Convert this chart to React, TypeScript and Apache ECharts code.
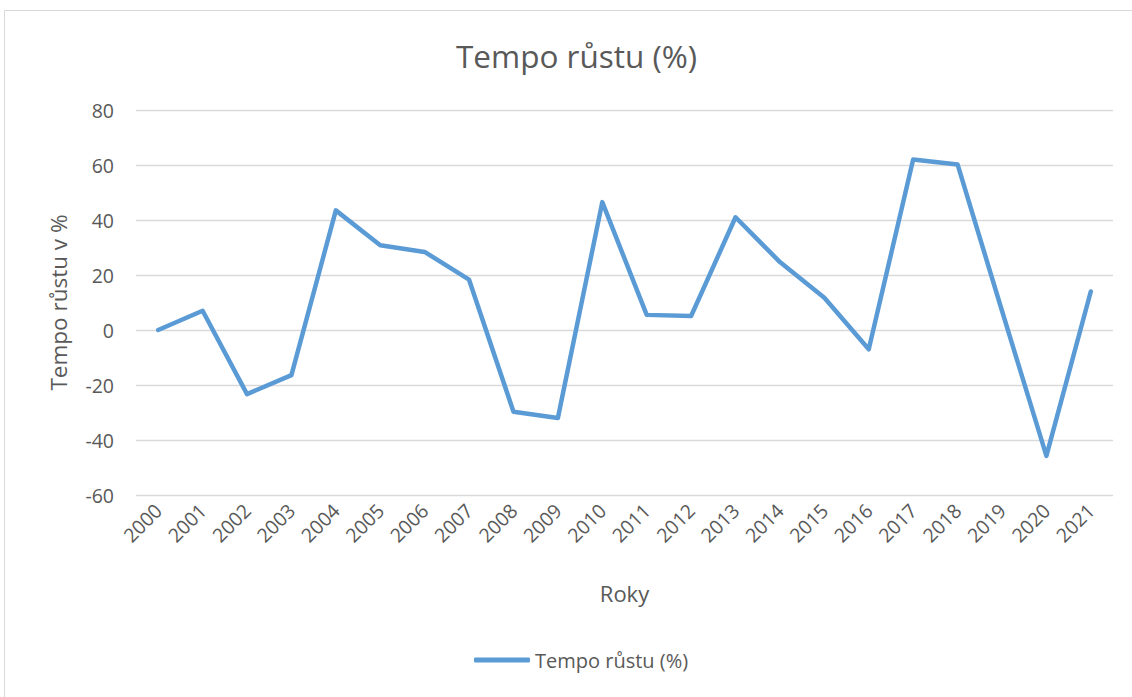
import React, { useEffect, useRef } from "react";
import * as echarts from "echarts";

const years = ["2000","2001","2002","2003","2004","2005","2006","2007","2008","2009","2010","2011","2012","2013","2014","2015","2016","2017","2018","2019","2020","2021"];
const growth = [0, 7, -23.3, -16.4, 43.5, 30.8, 28.4, 18.3, -29.7, -32, 46.5, 5.5, 5.1, 41, 24.7, 11.7, -7, 62, 60.2, 7, -45.8, 14];
const yTicks = { min: -60, max: 80, interval: 20 };

const FONT = "'Open Sans', 'Noto Sans', sans-serif";

export default function App() {
  const ref = useRef<HTMLDivElement>(null);
  useEffect(() => {
    document.body.style.margin = "0";
    const chart = echarts.init(ref.current!, null, { renderer: "svg" });
    chart.setOption({
      animation: false,
      backgroundColor: "#ffffff",
      textStyle: { fontFamily: FONT },
      title: {
        text: "Tempo růstu (%)",
        left: 451,
        top: 34,
        textStyle: { fontFamily: FONT, fontSize: 31.5, fontWeight: "normal", color: "#595959" },
      },
      graphic: [
        {
          type: "rect",
          shape: { x: 4.5, y: 10.5, width: 1140, height: 700 },
          style: { fill: "none", stroke: "#d9d9d9", lineWidth: 1 },
          silent: true,
        },
      ],
      legend: {
        bottom: 22,
        left: 469,
        itemWidth: 56,
        itemHeight: 5,
        itemGap: 5,
        icon: "roundRect",
        textStyle: { fontFamily: FONT, fontSize: 20, color: "#595959" },
        data: ["Tempo růstu (%)"],
      },
      grid: { left: 136, right: 19, top: 110, bottom: 202, containLabel: false },
      xAxis: {
        type: "category",
        data: years,
        boundaryGap: true,
        name: "Roky",
        nameLocation: "middle",
        nameGap: 87,
        nameTextStyle: { fontFamily: FONT, fontSize: 22, color: "#595959" },
        axisLine: { show: false },
        axisTick: { show: false },
        axisLabel: { rotate: 45, fontFamily: FONT, fontSize: 19.5, color: "#595959", margin: 12, interval: 0 },
      },
      yAxis: {
        type: "value",
        min: yTicks.min,
        max: yTicks.max,
        interval: yTicks.interval,
        name: "Tempo růstu v %",
        nameLocation: "middle",
        nameGap: 66,
        nameTextStyle: { fontFamily: FONT, fontSize: 22.5, color: "#595959" },
        axisLine: { show: false },
        axisTick: { show: false },
        axisLabel: { fontFamily: FONT, fontSize: 19.5, color: "#595959", margin: 22 },
        splitLine: { lineStyle: { color: "#d9d9d9", width: 1.3 } },
      },
      series: [
        {
          name: "Tempo růstu (%)",
          type: "line",
          data: growth,
          symbol: "none",
          lineStyle: { color: "#5b9bd5", width: 4.5, cap: "round", join: "round" },
          itemStyle: { color: "#5b9bd5" },
        },
      ],
    });
    return () => chart.dispose();
  }, []);
  return <div ref={ref} style={{ width: 1132, height: 697 }} />;
}
